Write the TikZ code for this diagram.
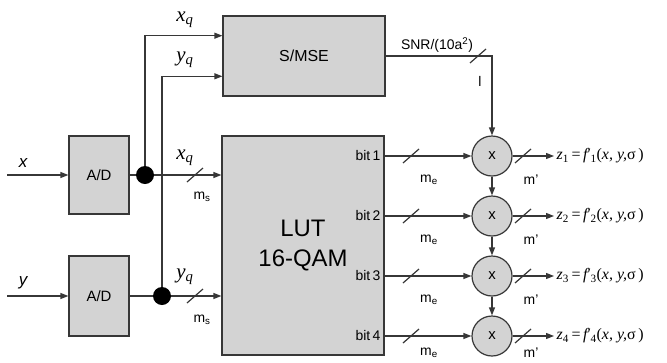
\documentclass[tikz,border=0pt]{standalone}
\usepackage{fontspec}
\setmainfont{Liberation Sans}
\newfontfamily\tms{Liberation Serif}
\usetikzlibrary{arrows.meta,calc}
\definecolor{bg}{RGB}{211,211,211}
\definecolor{lc}{RGB}{55,55,55}
\newcommand\zlab[1]{{\tms\fontsize{16}{18}\selectfont\itshape z\textsubscript{\upshape #1}\,{\upshape =}\,f{\upshape ′}\kern-0.5bp\textsubscript{\upshape #1}{\upshape(}x, y,{\upshape σ\,)}}}
\newcommand\mq[2]{{\tms\fontsize{21}{24}\selectfont\itshape #1\textsubscript{#2}}}
\begin{document}
\begin{tikzpicture}[x=1bp,y=-1bp,line width=1.2bp,draw=lc,
  box/.style={draw=lc,fill=bg,inner sep=0pt},
  mul/.style={circle,draw=lc,fill=bg,minimum size=40bp,inner sep=0pt,font=\fontsize{15}{18}\selectfont},
  jdot/.style={circle,fill=black,minimum size=18bp,inner sep=0pt},
  arr/.style={-{Triangle[length=8bp,width=6bp]}},
  lbl/.style={font=\fontsize{14}{16}\selectfont,inner sep=0pt},
  tick/.style={line width=1.2bp}]
\useasboundingbox (0,0) rectangle (667,362);
% blocks
\node[box,minimum width=60bp,minimum height=78bp,font=\fontsize{15}{18}\selectfont] (ad1) at (99,175) {A/D};
\node[box,minimum width=60bp,minimum height=80bp,font=\fontsize{15}{18}\selectfont] (ad2) at (99,296) {A/D};
\node[box,minimum width=162bp,minimum height=80bp,font=\fontsize{16}{19}\selectfont] (smse) at (304,56) {S/MSE};
\node[box,minimum width=162bp,minimum height=219bp,align=center,font=\fontsize{24}{30}\selectfont] (lut) at (303,245.5) {LUT\\16-QAM};
\coordinate (xin) at (7,175);
\coordinate (yin) at (7,296);
\coordinate (d1) at (145,175);
\coordinate (d2) at (162,296);
% multipliers
\foreach \i/\y in {1/156,2/216,3/276,4/336}{
  \node[mul] (c\i) at (492,\y) {x};
  \node[lbl,anchor=east] (b\i) at (381,\y) {bit\,\i};
  \node[anchor=west,inner sep=2bp] (z\i) at (554,\y) {\zlab{\i}};
  \draw[arr] (lut.east |- c\i) -- (c\i.west);
  \draw[arr] (c\i.east) -- (z\i.west);
  \draw[tick] ($(411,\y)+(-8,7)$) -- ($(411,\y)+(8,-7)$);
  \draw[tick] ($(523,\y)+(-8,7)$) -- ($(523,\y)+(8,-7)$);
}
\node[lbl] (me1) at (429,180) {m\textsubscript{e}};
\node[lbl] (me2) at (429,240) {m\textsubscript{e}};
\node[lbl] (me3) at (429,300) {m\textsubscript{e}};
\node[lbl] (me4) at (429,353) {m\textsubscript{e}};
\node[lbl] (mp1) at (531,180) {m'};
\node[lbl] (mp2) at (531,240) {m'};
\node[lbl] (mp3) at (531,300) {m'};
\node[lbl] (mp4) at (531,353) {m'};
\draw[arr] (c1.south) -- (c2.north);
\draw[arr] (c2.south) -- (c3.north);
\draw[arr] (c3.south) -- (c4.north);
% inputs
\draw[arr] (xin) -- (ad1.west |- xin);
\draw[arr] (yin) -- (ad2.west |- yin);
\node[font=\fontsize{17}{20}\selectfont\itshape,inner sep=0pt] (xl) at (23,163) {x};
\node[font=\fontsize{17}{20}\selectfont\itshape,inner sep=0pt] (yl) at (23,283) {y};
\draw (ad1.east |- d1) -- (d1);
\draw (ad2.east |- d2) -- (d2);
\draw[arr] (d1) -- (d1 -| lut.west);
\draw[arr] (d2) -- (d2 -| lut.west);
\draw[arr] (d1) |- ($(smse.north west)!0.25!(smse.south west)$);
\draw[arr] (d2) |- ($(smse.north west)!0.75!(smse.south west)$);
\node[jdot] (j1) at (d1) {};
\node[jdot] (j2) at (d2) {};
\draw[tick] ($(195,175)+(-8,7)$) -- ($(195,175)+(8,-7)$);
\draw[tick] ($(195,296)+(-8,7)$) -- ($(195,296)+(8,-7)$);
\node[inner sep=0pt] (xq1) at (185,20) {\mq{x}{q}};
\node[inner sep=0pt] (yq1) at (185,60) {\mq{y}{q}};
\node[inner sep=0pt] (xq2) at (185,158) {\mq{x}{q}};
\node[inner sep=0pt] (yq2) at (185,277) {\mq{y}{q}};
\node[lbl] (ms1) at (202,197) {m\textsubscript{s}};
\node[lbl] (ms2) at (202,320) {m\textsubscript{s}};
% SNR path
\draw[arr] (smse.east) -| (c1.north);
\draw[tick] ($(478,56)+(-8,7)$) -- ($(478,56)+(8,-7)$);
\node[lbl] (snr) at (437,45) {SNR/(10a\textsuperscript{2})};
\node[lbl] (ll) at (480,81) {l};
\end{tikzpicture}
\end{document}
